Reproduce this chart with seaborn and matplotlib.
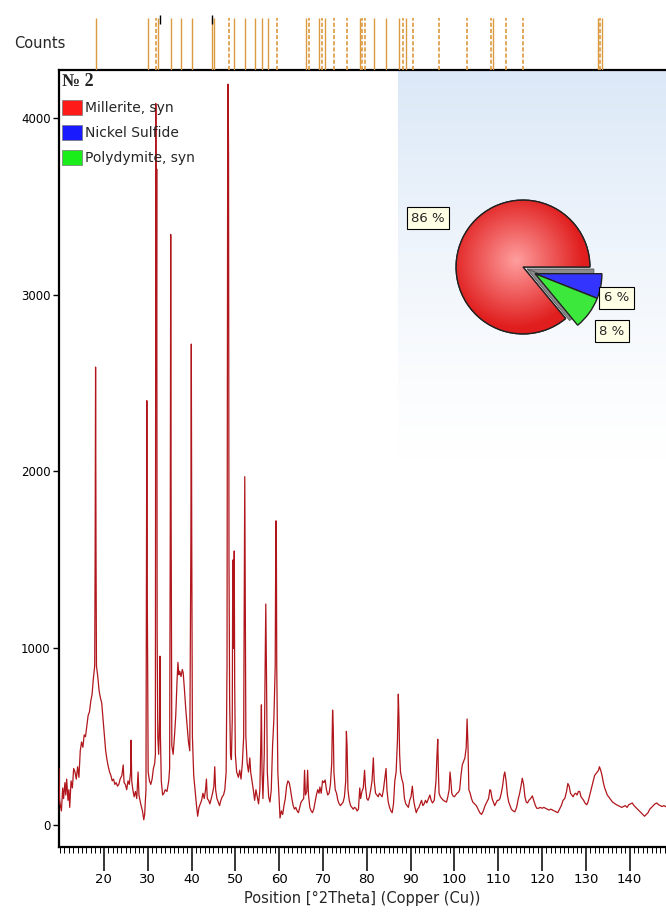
import numpy as np
import matplotlib
matplotlib.use('Agg')
import matplotlib.pyplot as plt
import seaborn as sns
from matplotlib.patches import Patch, Wedge
from matplotlib.ticker import MultipleLocator, FixedLocator

# measured pattern (2Theta, counts)
two_theta = [9.75, 9.85, 10.0, 10.3, 10.6, 10.8, 11.1, 11.3, 11.5, 11.8, 12.0, 12.2, 12.5, 12.8,
             13.1, 13.4, 13.7, 14.0, 14.3, 14.6, 14.9, 15.2, 15.5, 15.8, 16.1, 16.4, 16.7, 17.0,
             17.3, 17.6, 17.9, 18.0, 18.1, 18.2, 18.3, 18.6, 18.9, 19.2, 19.5, 19.8, 20.1, 20.4,
             20.7, 21.0, 21.3, 21.6, 21.9, 22.2, 22.5, 22.8, 23.1, 23.4, 23.7, 24.1, 24.4, 24.6,
             24.9, 25.2, 25.5, 25.8, 26.1, 26.2, 26.35, 26.6, 26.9, 27.2, 27.5, 27.8, 28.0, 28.4,
             28.8, 29.1, 29.3, 29.6, 29.7, 29.8, 29.9, 30.1, 30.4, 30.7, 31.0, 31.3, 31.6, 31.75,
             31.85, 31.95, 32.05, 32.15, 32.3, 32.5, 32.7, 32.8, 32.9, 33.1, 33.4, 33.7, 34.0,
             34.4, 34.8, 35.0, 35.15, 35.25, 35.35, 35.5, 35.8, 36.1, 36.4, 36.7, 36.9, 37.1,
             37.3, 37.6, 37.9, 38.1, 38.4, 38.7, 39.0, 39.3, 39.6, 39.85, 39.95, 40.05, 40.2,
             40.5, 40.8, 41.1, 41.4, 41.7, 42.0, 42.3, 42.6, 42.9, 43.2, 43.4, 43.6, 43.9, 44.2,
             44.5, 44.8, 45.1, 45.3, 45.5, 45.8, 46.1, 46.4, 46.7, 47.0, 47.3, 47.6, 47.9, 48.1,
             48.25, 48.35, 48.45, 48.55, 48.7, 48.9, 49.1, 49.3, 49.4, 49.5, 49.6, 49.75, 49.85,
             50.0, 50.3, 50.7, 51.0, 51.3, 51.6, 51.9, 52.05, 52.15, 52.25, 52.4, 52.7, 53.0,
             53.3, 53.5, 53.8, 54.1, 54.4, 54.7, 55.0, 55.3, 55.6, 55.8, 55.95, 56.1, 56.3, 56.6,
             56.8, 56.95, 57.1, 57.3, 57.6, 57.9, 58.2, 58.5, 58.8, 59.1, 59.25, 59.35, 59.45,
             59.7, 59.9, 60.2, 60.5, 60.8, 61.1, 61.4, 61.7, 62.0, 62.3, 62.6, 62.9, 63.2, 63.5,
             63.8, 64.1, 64.4, 64.7, 65.0, 65.3, 65.6, 65.8, 66.0, 66.3, 66.5, 66.7, 67.0, 67.3,
             67.6, 67.9, 68.2, 68.5, 68.8, 69.1, 69.3, 69.6, 69.9, 70.2, 70.5, 70.8, 71.1, 71.4,
             71.7, 72.0, 72.2, 72.35, 72.5, 72.8, 73.1, 73.4, 73.7, 74.0, 74.3, 74.6, 74.9, 75.2,
             75.35, 75.5, 75.7, 76.0, 76.3, 76.6, 76.9, 77.2, 77.5, 77.8, 78.1, 78.4, 78.6, 78.9,
             79.2, 79.5, 79.7, 80.0, 80.3, 80.6, 80.9, 81.2, 81.5, 81.7, 82.0, 82.3, 82.6, 82.9,
             83.2, 83.5, 83.8, 84.1, 84.4, 84.6, 84.9, 85.2, 85.5, 85.8, 86.1, 86.4, 86.7, 87.0,
             87.2, 87.35, 87.5, 87.7, 88.0, 88.3, 88.6, 88.9, 89.2, 89.5, 89.8, 90.1, 90.4, 90.7,
             91.0, 91.3, 91.6, 91.9, 92.2, 92.5, 92.8, 93.1, 93.4, 93.7, 94.1, 94.4, 94.7, 95.0,
             95.4, 95.8, 96.0, 96.2, 96.35, 96.5, 96.8, 97.1, 97.5, 97.8, 98.2, 98.5, 98.8, 99.0,
             99.2, 99.4, 99.7, 100.0, 100.3, 100.6, 100.9, 101.2, 101.5, 101.8, 102.1, 102.4,
             102.7, 102.9, 103.1, 103.3, 103.6, 103.9, 104.2, 104.6, 105.0, 105.4, 105.8, 106.2,
             106.6, 107.0, 107.4, 107.8, 108.1, 108.3, 108.6, 108.9, 109.2, 109.5, 109.8, 110.1,
             110.4, 110.7, 111.0, 111.3, 111.5, 111.8, 112.1, 112.4, 112.7, 113.0, 113.4, 113.8,
             114.2, 114.6, 114.9, 115.2, 115.5, 115.8, 116.1, 116.4, 116.7, 117.0, 117.4, 117.8,
             118.1, 118.5, 118.8, 119.2, 119.6, 120.0, 120.4, 120.8, 121.2, 121.6, 122.0, 122.4,
             122.8, 123.2, 123.6, 124.0, 124.4, 124.8, 125.2, 125.6, 125.9, 126.2, 126.5, 126.8,
             127.1, 127.4, 127.7, 128.0, 128.3, 128.6, 128.9, 129.2, 129.5, 129.8, 130.2, 130.5,
             130.8, 131.1, 131.4, 131.7, 132.0, 132.3, 132.6, 132.9, 133.1, 133.4, 133.7, 134.0,
             134.3, 134.6, 134.9, 135.2, 135.5, 135.8, 136.1, 136.4, 136.7, 137.0, 137.4, 137.8,
             138.2, 138.6, 139.0, 139.4, 139.8, 140.2, 140.6, 141.0, 141.4, 141.8, 142.2, 142.6,
             143.0, 143.4, 143.8, 144.2, 144.6, 145.0, 145.4, 145.8, 146.2, 146.6, 147.0, 147.4,
             147.8, 148.2, 148.5]
counts = [320, 150, 120, 80, 210, 150, 240, 170, 260, 140, 200, 100, 250, 210,
          320, 300, 260, 330, 270, 420, 470, 440, 510, 500, 560, 620, 640, 700,
          740, 830, 900, 1540, 2590, 1550, 900, 840, 760, 720, 690, 600, 510, 420,
          370, 330, 300, 280, 250, 260, 230, 240, 220, 230, 260, 280, 340, 240,
          230, 200, 250, 230, 300, 480, 250, 200, 160, 190, 150, 300, 170, 120,
          80, 30, 60, 200, 1330, 2400, 1330, 300, 250, 230, 260, 320, 350, 400,
          4080, 2500, 3710, 1100, 500, 400, 600, 955, 500, 250, 170, 180, 200,
          190, 250, 320, 1700, 3340, 1700, 450, 400, 500, 620, 820, 920, 850,
          870, 840, 880, 860, 760, 650, 560, 470, 420, 1600, 2720, 1600, 500,
          280, 200, 120, 50, 100, 120, 140, 180, 150, 200, 260, 150, 140, 120,
          150, 180, 220, 330, 200, 150, 130, 110, 140, 160, 170, 200, 300, 900,
          3780, 4190, 3800, 1500, 700, 400, 370, 600, 1400, 1500, 1000, 1550, 800,
          400, 300, 270, 310, 260, 350, 500, 1380, 1970, 1380, 500, 350, 300,
          380, 300, 250, 200, 140, 200, 160, 120, 200, 450, 680, 300, 150, 400,
          880, 1250, 880, 300, 160, 130, 200, 450, 600, 900, 1720, 1720, 900,
          300, 200, 40, 80, 60, 110, 150, 220, 250, 240, 200, 150, 110, 90,
          100, 80, 70, 100, 130, 140, 150, 310, 170, 190, 310, 170, 100, 80,
          70, 90, 130, 170, 200, 180, 215, 180, 250, 240, 255, 200, 170, 180,
          230, 350, 650, 550, 300, 200, 180, 140, 120, 110, 120, 130, 160, 250,
          530, 450, 200, 140, 110, 100, 90, 100, 95, 80, 90, 210, 150, 190,
          210, 310, 220, 150, 140, 160, 200, 250, 380, 250, 180, 170, 160, 180,
          170, 160, 200, 260, 320, 200, 130, 100, 80, 70, 120, 250, 300, 480,
          740, 600, 400, 300, 260, 235, 150, 120, 110, 100, 140, 160, 220, 140,
          100, 70, 90, 100, 120, 140, 110, 120, 140, 125, 150, 170, 140, 125,
          140, 250, 380, 485, 300, 180, 160, 150, 140, 135, 130, 160, 200, 300,
          250, 180, 165, 160, 170, 180, 185, 200, 280, 340, 360, 380,
          440, 600, 450, 200, 180, 150, 130, 120, 110, 90, 70, 60,
          80, 110, 130, 150, 200, 195, 150, 130, 110, 125, 140, 140,
          150, 180, 220, 280, 300, 250, 170, 130, 110, 90, 80, 75,
          100, 150, 180, 220, 265, 230, 160, 130, 125, 140, 150, 165,
          140, 110, 95, 95, 100, 95, 100, 95, 90, 85, 90, 85,
          80, 75, 70, 90, 110, 140, 150, 190, 235, 220, 180, 170,
          160, 175, 180, 170, 190, 190, 160, 150, 140, 125, 115, 130,
          160, 190, 220, 250, 280, 290, 300, 310, 330, 310, 280, 240,
          210, 190, 170, 160, 150, 140, 130, 125, 120, 115, 110, 105,
          100, 105, 110, 100, 115, 120, 125, 110, 100, 90, 80, 70,
          60, 50, 60, 70, 90, 100, 110, 120, 125, 115, 110, 105,
          110, 105, 100]

# reference pattern sticks shown in the top strip
ref_pos = [18.1, 30.0, 31.8, 32.3, 35.4, 37.7, 40.2, 44.7, 45.2, 48.6, 49.8, 52.3, 54.4,
           56.1, 57.4, 59.5, 66.1, 66.8, 69.2, 69.7, 70.5, 72.6, 75.6, 78.5, 79.0, 79.7,
           81.6, 84.5, 87.4, 88.2, 88.9, 90.6, 96.4, 102.9, 108.3, 108.9, 111.7, 115.6,
           132.8, 133.2, 133.8]
ref_dashed = [0, 0, 1, 0, 0, 0, 0, 0, 0, 1, 0, 0, 0,
              0, 0, 1, 0, 1, 0, 1, 0, 1, 1, 0, 1, 1,
              0, 0, 0, 1, 0, 1, 1, 1, 1, 0, 1, 1,
              0, 1, 0]
marker_pos = [32.9, 44.7]
x_major = [20, 30, 40, 50, 60, 70, 80, 90, 100, 110, 120, 130, 140]

phases = ['Millerite, syn', 'Nickel Sulfide', 'Polydymite, syn']
phase_pct = [86, 6, 8]
phase_colors = ['#ff1a1a', '#1a1aff', '#1aee1a']

sns.set_theme(style='ticks')
plt.rcParams['font.family'] = ['DejaVu Sans']

W, H = 666, 917
def box(l, t, r, b):
    return [l / W, 1 - b / H, (r - l) / W, (b - t) / H]

fig = plt.figure(figsize=(W / 100, H / 100), dpi=100)
ax = fig.add_axes(box(59, 70, 666, 847))

# light blue panel behind the pie
grad = np.ones((100, 2, 4))
grad[..., 0] = 0.86
grad[..., 1] = 0.91
grad[..., 2] = 0.97
grad[..., 3] = np.linspace(1, 0, 100)[:, None] ** 1.3
ax.imshow(grad, extent=[0.558, 1.0, 0.49, 1.0], transform=ax.transAxes,
          aspect='auto', zorder=0, interpolation='bilinear')

sns.lineplot(x=two_theta, y=counts, ax=ax, estimator=None, sort=False,
             color='#b0161c', lw=0.9, zorder=3)

ax.set_xlim(9.75, 148.3)
ax.set_ylim(-124, 4270)
ax.yaxis.set_major_locator(FixedLocator([0, 1000, 2000, 3000, 4000]))
ax.tick_params(axis='y', direction='out', length=4, width=1.0, labelsize=8.5, pad=2,
               left=True, color='black', labelcolor='black')
ax.xaxis.set_major_locator(FixedLocator(x_major))
ax.xaxis.set_minor_locator(MultipleLocator(1))
ax.tick_params(axis='x', which='major', bottom=True, top=False, direction='out',
               length=17, width=1.1, labelsize=9.5, pad=2, color='black', labelcolor='black')
ax.tick_params(axis='x', which='minor', bottom=True, top=False, direction='out',
               length=4, width=0.7, color='black')
ax.set_xlabel('Position [°2Theta] (Copper (Cu))', fontsize=10.5, labelpad=3)
for s in ['left', 'top', 'bottom']:
    ax.spines[s].set_linewidth(1.6)
    ax.spines[s].set_color('black')
ax.spines['right'].set_visible(False)

handles = [Patch(facecolor=c, edgecolor='#777777', lw=0.5) for c in phase_colors]
leg = ax.legend(handles, phases, loc='upper left', title='№ 2', frameon=False,
                fontsize=10, handlelength=1.45, handleheight=1.3, handletextpad=0.2,
                labelspacing=0.72, borderaxespad=0.15, borderpad=0.05, alignment='left',
                title_fontproperties={'family': 'Liberation Serif', 'weight': 'bold', 'size': 13})
leg.set_zorder(5)

# top strip with reference sticks
strip = fig.add_axes(box(59, 10, 666, 70))
strip.set_xlim(ax.get_xlim())
strip.set_ylim(0, 60)
strip.axis('off')
solid = [p for p, d in zip(ref_pos, ref_dashed) if not d]
dashed = [p for p, d in zip(ref_pos, ref_dashed) if d]
strip.vlines(solid, 0, 52, color='#dc9a40', lw=1.0)
strip.vlines(dashed, 0, 52, color='#dc9a40', lw=1.2, linestyles=(0, (2.5, 1.2)))
strip.vlines(marker_pos, 46, 55, color='black', lw=1.0)
fig.text(40 / W, 1 - 44 / H, 'Counts', fontsize=10.5, ha='center', va='center')

# phase pie
pax = fig.add_axes(box(416, 160, 630, 374))
wedges, _ = pax.pie([phase_pct[1], phase_pct[2], phase_pct[0]],
                    colors=['#3434ff', '#3de83d', phase_colors[0]],
                    startangle=0, counterclock=False, radius=1.0,
                    wedgeprops=dict(edgecolor='#222222', lw=1.0))
for w in wedges[:2]:
    w.set_center((0.18, -0.1))
    w.set_zorder(3)
    side = Wedge((0.06, -0.03), w.r, w.theta1, w.theta2, facecolor='#8c8c8c',
                 edgecolor='#555555', lw=0.6, zorder=2)
    pax.add_patch(side)
wedges[2].set_zorder(1)

# soft shading on the large slice
yy, xx = np.mgrid[-1:1:200j, -1:1:200j]
rr = np.clip(np.hypot(xx + 0.1, yy - 0.1), 0, 1)
shade = np.zeros((200, 200, 3))
shade[..., 0] = 1.0 - 0.12 * rr
shade[..., 1] = 0.62 - 0.5 * rr
shade[..., 2] = 0.62 - 0.5 * rr
im = pax.imshow(shade, extent=[-1, 1, -1, 1], origin='lower', zorder=1.5)
im.set_clip_path(wedges[2])
outline = Wedge((0, 0), 1.0, wedges[2].theta1, wedges[2].theta2, facecolor='none',
                edgecolor='#222222', lw=1.0, zorder=1.6)
pax.add_patch(outline)

pax.set_xlim(-1.6, 1.6)
pax.set_ylim(-1.6, 1.6)
pax.set_aspect('equal')
pax.axis('off')
lbl = dict(fontsize=9.5, ha='center', va='center',
           bbox=dict(boxstyle='square,pad=0.35', fc='#ffffe6', ec='black', lw=0.8))
pax.text(-1.42, 0.73, f'{phase_pct[0]} %', **lbl)
pax.text(1.40, -0.46, f'{phase_pct[1]} %', **lbl)
pax.text(1.33, -0.96, f'{phase_pct[2]} %', **lbl)

fig.savefig('out.png', dpi=100)
